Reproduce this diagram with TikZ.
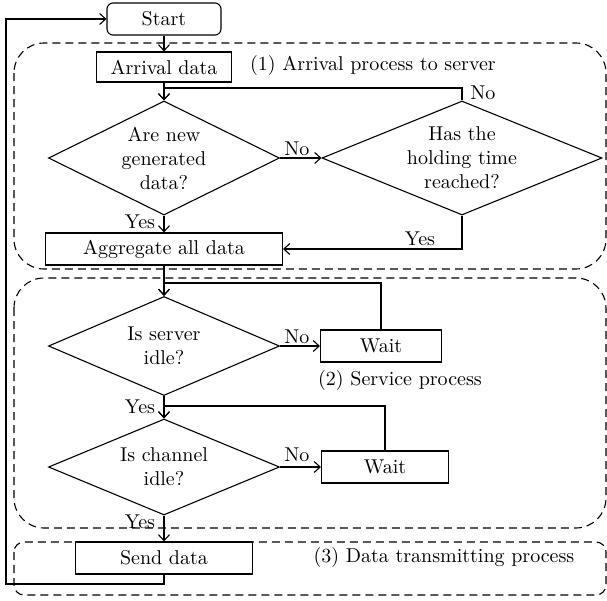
\documentclass[tikz,border=0pt]{standalone}
\usetikzlibrary{arrows.meta,positioning,shapes.geometric,calc}

\begin{document}
\begin{tikzpicture}[
  x=0.5pt, y=-0.5pt,
  every node/.style={font=\normalsize},
  line/.style={draw, line width=0.55pt},
  arr/.style={line, -{Straight Barb[length=3pt,width=5.5pt]}},
  block/.style={draw, line width=0.55pt, minimum height=16pt, inner sep=2pt},
  decision/.style={diamond, draw, line width=0.55pt, align=center, inner sep=0pt, aspect=2, minimum width=115.5pt},
  region/.style={draw, dash pattern=on 4pt off 2.5pt, line width=0.55pt}
]
  \useasboundingbox (0,0) rectangle (607,601);

  % process regions
  \draw[region, rounded corners=15pt] (14,43) rectangle (606,269);
  \draw[region, rounded corners=15pt] (14,278) rectangle (606,528);
  \draw[region, rounded corners=5pt] (14,542) rectangle (606,595);

  % (1) arrival
  \node[block, rounded corners=3pt, minimum width=57pt] (start) at (164,19) {Start};
  \node[block, minimum width=67.5pt, minimum height=15pt] (arrival) at (164,67) {Arrival data};
  \node (lab1) at (373,65) {(1) Arrival process to server};
  \node[decision, minimum height=57pt] (newdata) at (164,158) {Are new\\generated\\data?};
  \node[decision, aspect=2.4, minimum width=140pt, minimum height=57pt] (holding) at (462,158) {Has the\\holding time\\reached?};
  \node[block, minimum width=118.5pt] (aggregate) at (164,249) {Aggregate all data};

  % (2) service
  \node[decision, minimum height=49.5pt] (server) at (164,346) {Is server\\idle?};
  \node[block, minimum width=60.5pt] (wait1) at (381,346) {Wait};
  \node (lab2) at (400,380) {(2) Service process};
  \node[decision, minimum height=48pt] (channel) at (164,467) {Is channel\\idle?};
  \node[block, minimum width=63.5pt] (wait2) at (385,467) {Wait};

  % (3) transmitting
  \node[block, minimum width=88.5pt] (send) at (164,558) {Send data};
  \node (lab3) at (444,557) {(3) Data transmitting process};

  % yes / no labels
  \node (no1) at (297,149) {No};
  \node (no2) at (483,93) {No};
  \node (yes1) at (140,222) {Yes};
  \node (yes2) at (420,239) {Yes};
  \node (no3) at (297,337) {No};
  \node (yes3) at (140,407) {Yes};
  \node (no4) at (297,455) {No};
  \node (yes4) at (140,522) {Yes};

  % junctions
  \coordinate (j1) at (164,88);
  \coordinate (j2) at (164,283);
  \coordinate (j3) at (164,406);
  \coordinate (back) at (6,584);

  \draw[arr] (start) -- (arrival);
  \draw[arr] (arrival) -- (newdata);
  \draw[arr] (holding.north) |- (j1) -- (newdata.north);
  \draw[arr] (newdata) -- (holding);
  \draw[arr] (newdata) -- (aggregate);
  \draw[arr] (holding.south) |- (aggregate.east);

  \draw[arr] (aggregate) -- (server);
  \draw[arr] (wait1.north) |- (j2) -- (server.north);
  \draw[arr] (server) -- (wait1);
  \draw[arr] (server) -- (channel);
  \draw[arr] (wait2.north) |- (j3) -- (channel.north);
  \draw[arr] (channel) -- (wait2);
  \draw[arr] (channel) -- (send);

  \draw[arr] (send.south) |- (back) |- (start.west);
\end{tikzpicture}
\end{document}
